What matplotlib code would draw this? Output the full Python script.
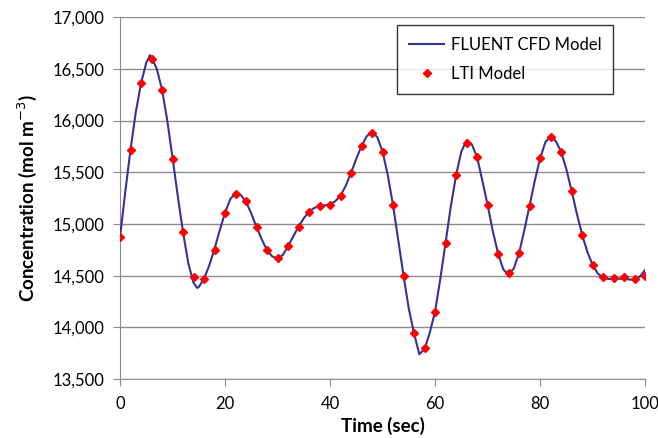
import numpy as np
import matplotlib
matplotlib.use("Agg")
import matplotlib.pyplot as plt
from matplotlib.ticker import FuncFormatter, MultipleLocator

# FLUENT CFD curve (1 s spacing plus the peak)
cfd_t = [0, 1, 2, 3, 4, 5, 5.7, 6, 7, 8, 9, 10, 11, 12, 13, 14, 14.7, 15, 16, 17,
         18, 19, 20, 21, 22, 23, 24, 25, 26, 27, 28, 29, 30, 31, 32, 33, 34, 35,
         36, 37, 38, 39, 40, 41, 42, 43, 44, 45, 46, 47, 48, 49, 50, 51, 52, 53,
         54, 55, 56, 57, 58, 59, 60, 61, 62, 63, 64, 65, 66, 67, 68, 69, 70, 71,
         72, 73, 74, 75, 76, 77, 78, 79, 80, 81, 82, 83, 84, 85, 86, 87, 88, 89,
         90, 91, 92, 93, 94, 95, 96, 97, 98, 99, 100]
cfd_c = [14870, 15310, 15720, 16080, 16360, 16560, 16632, 16615, 16500, 16300,
         16000, 15640, 15270, 14920, 14620, 14430, 14381, 14390, 14470, 14600,
         14760, 14940, 15110, 15240, 15300, 15280, 15215, 15100, 14970, 14850,
         14745, 14685, 14665, 14700, 14785, 14880, 14975, 15055, 15120, 15155,
         15172, 15180, 15190, 15220, 15275, 15370, 15495, 15630, 15755, 15850,
         15890, 15840, 15700, 15470, 15180, 14840, 14497, 14180, 13940, 13740,
         13790, 13950, 14152, 14470, 14819, 15170, 15471, 15700, 15810, 15770,
         15645, 15420, 15184, 14930, 14713, 14560, 14510, 14570, 14719, 14940,
         15177, 15420, 15635, 15790, 15850, 15800, 15700, 15530, 15320, 15100,
         14897, 14730, 14603, 14520, 14480, 14468, 14468, 14470, 14470, 14462,
         14460, 14490, 14555]

# LTI model points, every 2 s
lti_t = list(range(0, 101, 2))
lti_c = [14871, 15719, 16361, 16594, 16300, 15632, 14923, 14487, 14465, 14752,
         15110, 15294, 15219, 14971, 14745, 14668, 14784, 14972, 15119, 15171,
         15187, 15274, 15494, 15755, 15884, 15697, 15181, 14497, 13945, 13800,
         14152, 14819, 15471, 15786, 15645, 15184, 14713, 14523, 14719, 15177,
         15635, 15839, 15700, 15319, 14897, 14603, 14487, 14481, 14484, 14465,
         14497]

plt.rcParams['font.family'] = ['Lato', 'DejaVu Sans']

fig = plt.figure(figsize=(6.58, 4.38), dpi=100)
ax = fig.add_axes([0.1824, 0.1347, 0.798, 0.826])

ax.plot(cfd_t, cfd_c, color='#333399', lw=1.5, label='FLUENT CFD Model', zorder=3)
ax.plot(lti_t, lti_c, linestyle='none', marker='D', ms=4.5, color='#FF0000',
        mec='#FF0000', label='LTI Model', zorder=4)

ax.set_xlim(0, 100)
ax.set_ylim(13500, 17000)
ax.xaxis.set_major_locator(MultipleLocator(20))
ax.yaxis.set_major_locator(MultipleLocator(500))
ax.yaxis.set_major_formatter(FuncFormatter(lambda v, p: f"{int(v):,}"))

ax.grid(axis='y', color='#8c8c8c', lw=1)
ax.set_axisbelow(True)
for s in ['top', 'right']:
    ax.spines[s].set_visible(False)
for s in ['left', 'bottom']:
    ax.spines[s].set_color('#8c8c8c')
ax.tick_params(axis='both', colors='#8c8c8c', labelcolor='black',
               labelsize=12, length=5, direction='out')
ax.tick_params(axis='y', pad=6)
ax.tick_params(axis='x', pad=7)

ax.set_xlabel('Time (sec)', fontsize=13.5, fontweight='bold', labelpad=4)
ax.set_ylabel('Concentration (mol m$^{-3}$)', fontsize=13.5, fontweight='bold',
              labelpad=10)

leg = ax.legend(loc='upper right', bbox_to_anchor=(0.939, 0.978), fontsize=12,
                frameon=True, fancybox=False, borderpad=0.7, labelspacing=0.8,
                handlelength=2.1, handletextpad=0.4, borderaxespad=0)
leg.get_frame().set_edgecolor('black')
leg.get_frame().set_linewidth(1)

fig.savefig('out.png', dpi=100)
